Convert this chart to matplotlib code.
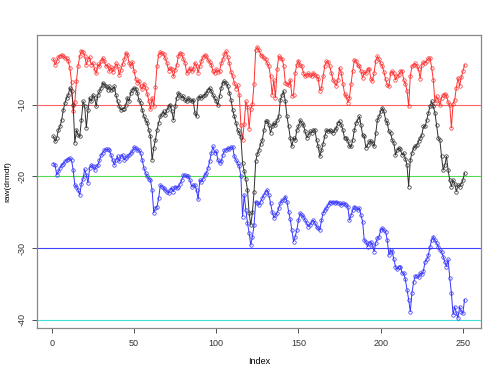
import numpy as np
import matplotlib
matplotlib.use("Agg")
import matplotlib.pyplot as plt

plt.rcParams['font.family'] = ['Liberation Sans', 'DejaVu Sans']

# values (index 1..251)
red_vals = [
    -3.6, -4.4, -3.9, -3.3, -3.1, -3.0, -3.2, -3.4, -3.5, -3.9,
    -4.8, -6.8, -10.9, -9.6, -6.6, -4.5, -3.2, -2.4, -2.6, -3.1,
    -4.4, -3.6, -3.3, -4.4, -4.1, -5.0, -5.6, -4.3, -4.6, -3.8,
    -3.4, -3.9, -4.6, -4.4, -5.3, -4.7, -5.4, -4.9, -4.2, -4.5,
    -5.8, -5.1, -4.3, -3.6, -2.7, -3.0, -4.1, -4.6, -4.0, -5.2,
    -6.3, -6.9, -6.6, -7.4, -7.8, -7.0, -7.6, -8.4, -9.4, -10.6,
    -9.0, -10.2, -7.5, -4.5, -3.0, -2.6, -2.8, -2.9, -3.5, -4.1,
    -5.2, -4.8, -5.0, -6.0, -5.1, -4.4, -3.1, -2.7, -2.9, -3.6,
    -4.1, -5.5, -5.2, -4.8, -5.3, -5.0, -4.1, -4.5, -5.5, -4.6,
    -3.8, -3.3, -3.0, -3.2, -3.7, -4.0, -4.4, -5.3, -5.6, -5.0,
    -5.4, -5.3, -4.2, -3.6, -2.9, -2.5, -3.3, -4.2, -5.4, -6.0,
    -6.9, -7.7, -7.2, -8.6, -12.8, -14.9, -12.6, -9.5, -10.3, -13.3,
    -10.5, -9.8, -7.0, -2.3, -1.9, -2.3, -3.0, -3.1, -3.5, -3.6,
    -4.2, -4.6, -6.0, -8.6, -6.5, -9.0, -5.0, -3.2, -3.4, -3.6,
    -4.5, -6.9, -7.0, -7.2, -6.5, -8.7, -8.6, -5.5, -4.4, -3.8,
    -4.4, -4.6, -5.5, -6.0, -5.8, -5.6, -5.8, -6.0, -5.5, -5.8,
    -6.0, -6.3, -8.0, -7.6, -6.0, -4.5, -3.9, -4.0, -4.6, -5.5,
    -6.5, -6.8, -7.3, -6.5, -4.8, -5.5, -7.0, -8.4, -8.8, -9.7,
    -9.0, -7.0, -5.2, -3.7, -3.9, -4.4, -4.6, -5.3, -6.2, -5.4,
    -5.6, -5.0, -5.0, -6.3, -6.6, -5.5, -3.8, -3.2, -3.6, -4.2,
    -4.6, -5.4, -6.4, -7.2, -7.4, -5.6, -5.3, -5.6, -6.5, -6.0,
    -5.8, -5.3, -5.2, -6.5, -7.0, -8.0, -10.2, -6.0, -4.6, -4.4,
    -4.2, -4.5, -5.0, -6.3, -4.4, -4.0, -4.1, -3.8, -3.5, -3.4,
    -4.8, -6.5, -9.7, -8.8, -9.3, -10.0, -9.0, -8.6, -8.4, -8.8,
    -9.6, -10.0, -13.2, -9.8, -9.3, -7.6, -6.2, -7.4, -6.1, -5.3, -4.4,
]

black_vals = [
    -14.4, -15.1, -14.6, -13.5, -13.0, -12.1, -10.7, -9.7, -9.0, -8.6,
    -7.6, -8.1, -10.0, -15.3, -13.5, -14.2, -14.4, -12.1, -9.5, -10.2,
    -13.2, -10.7, -9.0, -9.5, -8.6, -9.0, -10.2, -8.6, -8.1, -7.6,
    -6.9, -7.2, -7.4, -7.9, -7.4, -7.9, -7.8, -7.4, -8.6, -9.5,
    -10.2, -10.7, -10.5, -10.5, -10.0, -9.0, -9.5, -8.3, -7.9, -7.6,
    -7.7, -8.3, -9.3, -9.7, -10.7, -11.6, -12.1, -12.5, -13.5, -14.4,
    -17.7, -16.0, -14.9, -13.5, -12.5, -11.6, -11.3, -10.9, -11.4, -10.7,
    -10.2, -10.0, -10.9, -12.1, -10.2, -9.0, -8.3, -8.6, -9.0, -8.8,
    -9.3, -9.5, -9.0, -9.3, -9.5, -9.3, -11.1, -11.6, -9.0, -8.8,
    -9.0, -8.8, -8.6, -8.3, -7.9, -7.6, -8.1, -8.6, -9.0, -9.5,
    -10.0, -8.8, -7.6, -6.9, -6.7, -6.9, -7.4, -8.3, -9.3, -10.7,
    -11.6, -12.5, -13.5, -13.9, -14.5, -18.1, -19.3, -20.4, -21.9, -25.1,
    -26.8, -25.0, -22.1, -17.9, -16.8, -16.3, -15.4, -14.9, -13.5, -12.3,
    -12.3, -12.8, -13.9, -13.0, -12.5, -12.8, -12.1, -11.6, -9.3, -8.6,
    -8.1, -9.5, -11.6, -13.0, -14.6, -15.8, -14.6, -14.9, -13.5, -13.0,
    -12.1, -12.5, -12.8, -13.7, -14.6, -14.2, -13.7, -13.9, -13.5, -13.5,
    -14.9, -15.8, -17.2, -16.3, -15.4, -14.4, -13.5, -13.7, -13.5, -13.7,
    -13.9, -13.5, -13.2, -12.5, -12.3, -12.8, -13.5, -14.6, -14.6, -15.0,
    -15.8, -15.8, -14.9, -13.5, -12.5, -12.1, -11.6, -12.8, -14.2, -14.4,
    -16.0, -15.6, -15.1, -15.1, -15.3, -15.8, -13.9, -12.1, -11.6, -10.9,
    -10.4, -10.9, -12.1, -12.5, -13.7, -13.9, -14.9, -15.3, -17.0, -16.3,
    -16.0, -16.2, -17.0, -16.7, -17.5, -18.4, -21.4, -17.7, -16.7, -16.0,
    -15.8, -15.6, -15.1, -14.6, -14.2, -13.0, -13.0, -12.1, -11.1, -10.2,
    -9.5, -10.2, -11.1, -12.8, -14.6, -14.9, -17.2, -19.1, -18.4, -17.2,
    -19.1, -20.5, -21.4, -20.5, -21.0, -22.1, -21.2, -21.4, -21.0, -20.5, -19.5,
]

blue_vals = [
    -18.2, -18.4, -19.8, -19.3, -18.8, -18.4, -18.2, -17.9, -17.7, -17.6,
    -17.4, -17.7, -19.1, -21.2, -21.4, -21.9, -22.6, -21.0, -20.3, -19.0,
    -19.8, -20.9, -18.8, -18.4, -18.6, -19.1, -18.6, -18.4, -17.7, -17.0,
    -16.7, -16.3, -16.2, -16.2, -16.3, -17.0, -17.7, -18.4, -17.7, -17.2,
    -17.9, -17.2, -17.0, -17.7, -17.4, -17.2, -17.0, -16.7, -16.5, -15.9,
    -16.0, -16.3, -16.3, -16.7, -17.7, -18.8, -19.5, -20.0, -20.3, -20.5,
    -21.9, -25.1, -24.4, -24.2, -23.0, -21.2, -21.4, -21.6, -21.9, -22.1,
    -22.3, -21.9, -21.6, -22.1, -21.4, -21.6, -21.4, -21.0, -20.5, -19.8,
    -19.8, -20.0, -20.0, -20.5, -21.4, -21.2, -21.2, -21.9, -23.2, -20.5,
    -20.7, -20.3, -19.8, -19.5, -18.8, -17.9, -16.7, -15.8, -16.7, -16.5,
    -17.7, -18.1, -17.9, -17.0, -16.3, -16.3, -16.0, -16.2, -15.9, -15.9,
    -17.2, -17.7, -18.1, -18.6, -20.0, -25.6, -22.6, -24.7, -26.5, -27.9,
    -29.6, -28.4, -26.8, -23.5, -23.7, -24.0, -23.5, -23.0, -22.6, -22.1,
    -21.9, -22.6, -23.7, -24.9, -25.8, -25.4, -25.1, -24.4, -23.7, -23.3,
    -23.3, -22.8, -23.5, -24.9, -26.0, -27.5, -29.1, -28.4, -27.5, -26.1,
    -25.1, -25.4, -25.6, -26.1, -26.5, -27.0, -26.8, -26.3, -26.1, -26.5,
    -27.0, -27.2, -27.5, -26.1, -25.1, -24.7, -24.4, -24.0, -23.5, -23.7,
    -23.5, -23.7, -23.5, -23.7, -23.7, -24.0, -23.7, -23.8, -24.0, -24.2,
    -26.1, -25.4, -24.7, -24.2, -24.4, -24.7, -24.4, -25.4, -26.3, -28.9,
    -29.1, -29.8, -29.3, -29.1, -29.6, -30.5, -29.3, -28.6, -28.4, -27.5,
    -27.2, -27.5, -27.7, -28.9, -31.0, -30.3, -30.5, -31.6, -32.6, -33.0,
    -32.6, -32.6, -33.5, -33.5, -34.4, -35.8, -37.2, -38.9, -36.3, -34.8,
    -33.9, -33.9, -34.1, -33.5, -33.7, -33.2, -31.9, -31.6, -31.0, -29.8,
    -28.9, -28.4, -28.9, -29.3, -29.8, -30.3, -30.5, -31.2, -31.9, -32.6,
    -31.6, -34.2, -36.3, -39.3, -38.2, -39.1, -39.8, -38.2, -38.9, -39.1, -37.2,
]

ref_levels = [-10, -20, -30, -40]
ref_colors = ["#ff6060", "#50dd50", "#4040ff", "#40e0e0"]

series = [(red_vals, "#ff3030"), (black_vals, "#303030"), (blue_vals, "#3535ff")]
x_ticks = [0, 50, 100, 150, 200, 250]
y_ticks = [-10, -20, -30, -40]

fig = plt.figure(figsize=(5, 3.75), dpi=100)
ax = fig.add_axes([0.074, 0.125, 0.888, 0.782])

for lev, col in zip(ref_levels, ref_colors):
    ax.axhline(lev, color=col, lw=0.8, zorder=1)

for vals, col in series:
    idx = np.arange(1, len(vals) + 1)
    ax.plot(idx, vals, color=col, lw=0.7, marker='o', ms=2.5,
            mfc='none', mec=col, mew=0.5, zorder=2)

ax.set_xlim(-9, 261)
ax.set_ylim(-41.2, -0.2)
ax.set_xticks(x_ticks)
ax.set_yticks(y_ticks)
ax.set_yticklabels([str(t) for t in y_ticks], rotation=90, va='center')
ax.tick_params(direction='out', length=3.5, width=0.6, labelsize=6.5,
               colors='#333333', pad=4)
for sp in ax.spines.values():
    sp.set_color('#888888')
    sp.set_linewidth(0.9)

ax.set_xlabel("Index", fontsize=6.5, labelpad=7)
ax.set_ylabel("raw(drmdf)", fontsize=6)
ax.yaxis.set_label_coords(-0.058, 0.5)

fig.savefig("out.png", dpi=100)
